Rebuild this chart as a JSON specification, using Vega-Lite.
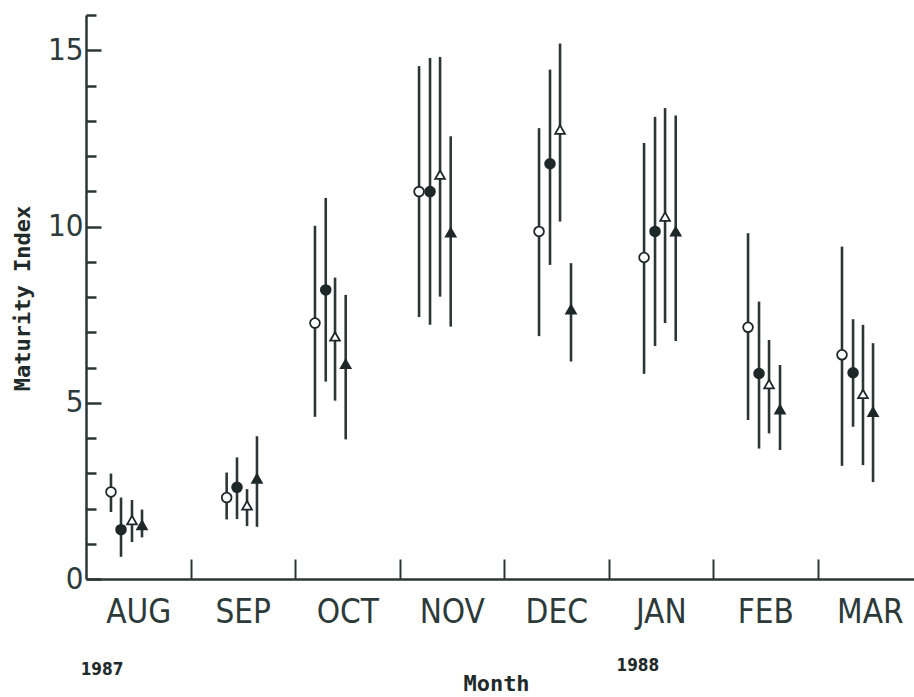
{
  "$schema": "https://vega.github.io/schema/vega-lite/v6.json",
  "width": 828,
  "height": 564,
  "autosize": "none",
  "padding": {"left": 86, "top": 15, "right": 0, "bottom": 118},
  "background": "white",
  "config": {"view": {"stroke": null}},
  "resolve": {"axis": {"y": "independent"}, "scale": {"y": "shared"}},
  "datasets": {
    "stats": [
      {"month": "AUG", "t": 0.239, "series": "Series 1", "mean": 2.47, "lo": 1.90, "hi": 2.99},
      {"month": "AUG", "t": 0.335, "series": "Series 2", "mean": 1.40, "lo": 0.63, "hi": 2.31},
      {"month": "AUG", "t": 0.440, "series": "Series 3", "mean": 1.67, "lo": 1.05, "hi": 2.24},
      {"month": "AUG", "t": 0.536, "series": "Series 4", "mean": 1.53, "lo": 1.18, "hi": 1.97},
      {"month": "SEP", "t": 1.346, "series": "Series 1", "mean": 2.31, "lo": 1.69, "hi": 3.02},
      {"month": "SEP", "t": 1.445, "series": "Series 2", "mean": 2.60, "lo": 1.70, "hi": 3.45},
      {"month": "SEP", "t": 1.541, "series": "Series 3", "mean": 2.09, "lo": 1.50, "hi": 2.55},
      {"month": "SEP", "t": 1.636, "series": "Series 4", "mean": 2.85, "lo": 1.48, "hi": 4.05},
      {"month": "OCT", "t": 2.191, "series": "Series 1", "mean": 7.26, "lo": 4.60, "hi": 10.02},
      {"month": "OCT", "t": 2.294, "series": "Series 2", "mean": 8.20, "lo": 5.60, "hi": 10.81},
      {"month": "OCT", "t": 2.383, "series": "Series 3", "mean": 6.88, "lo": 5.06, "hi": 8.55},
      {"month": "OCT", "t": 2.485, "series": "Series 4", "mean": 6.10, "lo": 3.96, "hi": 8.06},
      {"month": "NOV", "t": 3.187, "series": "Series 1", "mean": 10.99, "lo": 7.43, "hi": 14.55},
      {"month": "NOV", "t": 3.292, "series": "Series 2", "mean": 10.99, "lo": 7.21, "hi": 14.78},
      {"month": "NOV", "t": 3.388, "series": "Series 3", "mean": 11.47, "lo": 8.01, "hi": 14.81},
      {"month": "NOV", "t": 3.490, "series": "Series 4", "mean": 9.83, "lo": 7.16, "hi": 12.56},
      {"month": "DEC", "t": 4.335, "series": "Series 1", "mean": 9.86, "lo": 6.89, "hi": 12.79},
      {"month": "DEC", "t": 4.440, "series": "Series 2", "mean": 11.78, "lo": 8.91, "hi": 14.45},
      {"month": "DEC", "t": 4.536, "series": "Series 3", "mean": 12.75, "lo": 10.14, "hi": 15.19},
      {"month": "DEC", "t": 4.641, "series": "Series 4", "mean": 7.65, "lo": 6.17, "hi": 8.96},
      {"month": "JAN", "t": 5.340, "series": "Series 1", "mean": 9.12, "lo": 5.82, "hi": 12.37},
      {"month": "JAN", "t": 5.445, "series": "Series 2", "mean": 9.86, "lo": 6.61, "hi": 13.11},
      {"month": "JAN", "t": 5.541, "series": "Series 3", "mean": 10.28, "lo": 7.26, "hi": 13.36},
      {"month": "JAN", "t": 5.643, "series": "Series 4", "mean": 9.86, "lo": 6.75, "hi": 13.15},
      {"month": "FEB", "t": 6.335, "series": "Series 1", "mean": 7.14, "lo": 4.51, "hi": 9.81},
      {"month": "FEB", "t": 6.440, "series": "Series 2", "mean": 5.83, "lo": 3.70, "hi": 7.87},
      {"month": "FEB", "t": 6.536, "series": "Series 3", "mean": 5.53, "lo": 4.13, "hi": 6.78},
      {"month": "FEB", "t": 6.641, "series": "Series 4", "mean": 4.81, "lo": 3.66, "hi": 6.07},
      {"month": "MAR", "t": 7.234, "series": "Series 1", "mean": 6.36, "lo": 3.21, "hi": 9.43},
      {"month": "MAR", "t": 7.340, "series": "Series 2", "mean": 5.85, "lo": 4.32, "hi": 7.37},
      {"month": "MAR", "t": 7.435, "series": "Series 3", "mean": 5.25, "lo": 3.23, "hi": 7.21},
      {"month": "MAR", "t": 7.531, "series": "Series 4", "mean": 4.74, "lo": 2.75, "hi": 6.69}
    ],
    "years": [
      {"label": "1987", "t": 0.153, "y": -2.59},
      {"label": "1988", "t": 5.28, "y": -2.48}
    ]
  },
  "layer": [
    {
      "data": {"name": "stats"},
      "mark": {"type": "rule", "strokeWidth": 2.6, "color": "#2d3636"},
      "encoding": {
        "x": {
          "field": "t", "type": "quantitative",
          "scale": {"domain": [0, 7.923], "nice": false, "zero": false},
          "axis": {
            "values": [0.5, 1, 1.5, 2, 2.5, 3, 3.5, 4, 4.5, 5, 5.5, 6, 6.5, 7, 7.5],
            "labelExpr": "datum.value % 1 == 0 ? '' : ['AUG','SEP','OCT','NOV','DEC','JAN','FEB','MAR'][floor(datum.value)]",
            "tickSize": -20,
            "tickWidth": 2,
            "tickColor": "#2d3636",
            "tickOpacity": {"condition": {"test": "datum.value % 1 == 0", "value": 1}, "value": 0},
            "domainWidth": 2.5,
            "domainColor": "#2d3636",
            "grid": false,
            "labelFont": "'Liberation Sans Narrow', 'DejaVu Sans Condensed', 'Liberation Sans', sans-serif",
            "labelFontSize": 33,
            "labelColor": "#2d3a3a",
            "labelPadding": 37,
            "labelOverlap": false,
            "labelFlush": false,
            "labelBound": false,
            "title": "Month",
            "titleFont": "DejaVu Sans Mono",
            "titleFontWeight": "bold",
            "titleFontSize": 22,
            "titleColor": "#1f2a2a",
            "titleX": 410,
            "titleY": 104,
            "titleBaseline": "middle",
            "titleAlign": "center"
          }
        },
        "y": {
          "field": "lo", "type": "quantitative",
          "scale": {"domain": [0, 16], "nice": false, "zero": false},
          "axis": {
            "orient": "left",
            "values": [0, 5, 10, 15],
            "tickSize": -15,
            "tickWidth": 2.5,
            "tickColor": "#2d3636",
            "domainWidth": 2.5,
            "domainColor": "#2d3636",
            "grid": false,
            "labelFont": "'Liberation Sans Narrow', 'DejaVu Sans Condensed', 'Liberation Sans', sans-serif",
            "labelFontSize": 31,
            "labelColor": "#2d3a3a",
            "labelPadding": 18,
            "labelOverlap": false,
            "labelFlush": false,
            "labelBound": false,
            "title": "Maturity Index",
            "titleFont": "DejaVu Sans Mono",
            "titleFontWeight": "bold",
            "titleFontSize": 22,
            "titleColor": "#1f2a2a",
            "titleX": -64,
            "titleY": 283,
            "titleAngle": -90,
            "titleAlign": "center",
            "titleBaseline": "middle"
          }
        },
        "y2": {"field": "hi"}
      }
    },
    {
      "data": {"name": "stats"},
      "mark": {"type": "point", "filled": true, "stroke": "#1f2828", "strokeWidth": 1.8, "opacity": 1},
      "encoding": {
        "x": {"field": "t", "type": "quantitative"},
        "y": {
          "field": "mean", "type": "quantitative",
          "axis": {
            "orient": "left",
            "values": [1, 2, 3, 4, 6, 7, 8, 9, 11, 12, 13, 14, 16],
            "labels": false,
            "domain": false,
            "grid": false,
            "tickSize": -10,
            "tickWidth": 2.5,
            "tickColor": "#2d3636",
            "title": null
          }
        },
        "shape": {"field": "series", "type": "nominal", "scale": {"range": ["circle", "circle", "triangle-up", "triangle-up"]}, "legend": null},
        "fill": {"field": "series", "type": "nominal", "scale": {"range": ["#ffffff", "#1f2828", "#ffffff", "#1f2828"]}, "legend": null},
        "size": {"field": "series", "type": "nominal", "scale": {"range": [95, 95, 110, 110]}, "legend": null}
      }
    },
    {
      "data": {"name": "years"},
      "mark": {"type": "text", "font": "'DejaVu Sans Condensed', 'DejaVu Sans'", "fontWeight": "bold", "fontSize": 17, "color": "#1f2a2a", "align": "center", "baseline": "middle"},
      "encoding": {
        "x": {"field": "t", "type": "quantitative"},
        "y": {"field": "y", "type": "quantitative", "axis": null},
        "text": {"field": "label"}
      }
    }
  ]
}
